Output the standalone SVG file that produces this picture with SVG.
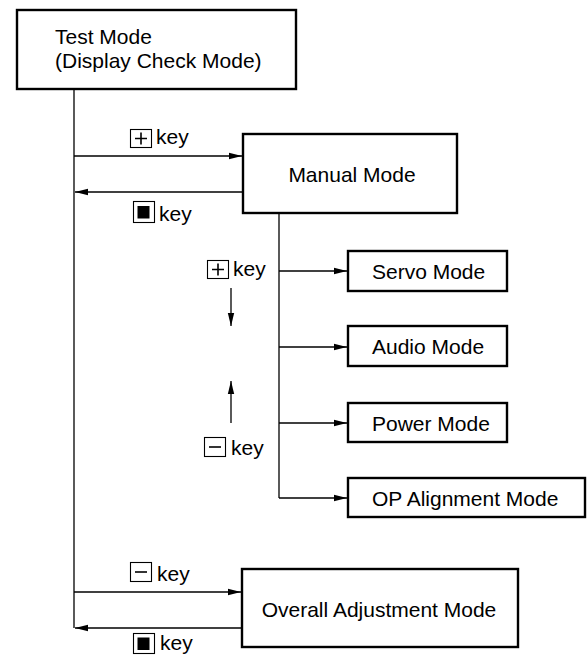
<svg xmlns="http://www.w3.org/2000/svg" width="588" height="655" viewBox="0 0 588 655">
<defs>
<style>
.box{fill:#fff;stroke:#000;stroke-width:2.4}
.t{font-family:"Liberation Sans",Arial,sans-serif;font-size:21px;fill:#000}
.ln{fill:none;stroke:#000;stroke-width:1.3}
.kb{fill:#fff;stroke:#000;stroke-width:1.1}
.ks{fill:none;stroke:#000;stroke-width:1.6}
</style>
<marker id="ah" markerUnits="userSpaceOnUse" markerWidth="14" markerHeight="8" viewBox="0 0 14 8" refX="13" refY="4" orient="auto">
<path d="M0,0.8 L13,4 L0,7.2 Z" fill="#000"/>
</marker>
</defs>
<g id="connectors">
<path class="ln" d="M74,89 V628"/>
<path class="ln" d="M74,156 H242" marker-end="url(#ah)"/>
<path class="ln" d="M243,192 H75" marker-end="url(#ah)"/>
<path class="ln" d="M279,213 V498"/>
<path class="ln" d="M279,271 H347" marker-end="url(#ah)"/>
<path class="ln" d="M279,347 H347" marker-end="url(#ah)"/>
<path class="ln" d="M279,423 H347" marker-end="url(#ah)"/>
<path class="ln" d="M279,498 H347" marker-end="url(#ah)"/>
<path class="ln" d="M74,592 H241" marker-end="url(#ah)"/>
<path class="ln" d="M242,628 H75" marker-end="url(#ah)"/>
<path class="ln" d="M231,288 V326" marker-end="url(#ah)"/>
<path class="ln" d="M231,423 V381" marker-end="url(#ah)"/>
</g>
<g id="test-mode">
<rect class="box" x="17" y="10" width="279" height="79"/>
<text class="t" x="55" y="44">Test Mode</text>
<text class="t" x="55" y="68">(Display Check Mode)</text>
</g>
<g id="manual-mode">
<rect class="box" x="243" y="134" width="214" height="79"/>
<text class="t" x="352" y="182" text-anchor="middle">Manual Mode</text>
</g>
<g id="servo-mode">
<rect class="box" x="348" y="251" width="159" height="40"/>
<text class="t" x="372" y="279">Servo Mode</text>
</g>
<g id="audio-mode">
<rect class="box" x="348" y="326" width="159" height="40"/>
<text class="t" x="372" y="354">Audio Mode</text>
</g>
<g id="power-mode">
<rect class="box" x="348" y="403" width="159" height="39"/>
<text class="t" x="372" y="431">Power Mode</text>
</g>
<g id="op-alignment-mode">
<rect class="box" x="348" y="478" width="237" height="39"/>
<text class="t" x="372" y="506">OP Alignment Mode</text>
</g>
<g id="overall-adjustment-mode">
<rect class="box" x="242" y="569" width="276" height="78"/>
<text class="t" x="379" y="617" text-anchor="middle">Overall Adjustment Mode</text>
</g>
<g id="label-plus-top">
<rect class="kb" x="130.5" y="129.5" width="21" height="18"/>
<path class="ks" d="M135,138.5 H147 M141,132.5 V144.5"/>
<text class="t" x="156" y="144">key</text>
</g>
<g id="label-stop-top">
<rect class="kb" x="133.5" y="201.5" width="21" height="21"/>
<rect x="137.5" y="206" width="12" height="12.5" fill="#000"/>
<text class="t" x="159" y="221">key</text>
</g>
<g id="label-plus-mid">
<rect class="kb" x="207.5" y="260.5" width="21" height="18"/>
<path class="ks" d="M212,269.5 H224 M218,263.5 V275.5"/>
<text class="t" x="233" y="276">key</text>
</g>
<g id="label-minus-mid">
<rect class="kb" x="204.5" y="437.5" width="21" height="19"/>
<path class="ks" d="M209,447 H221"/>
<text class="t" x="231" y="455">key</text>
</g>
<g id="label-minus-bottom">
<rect class="kb" x="130.5" y="562.5" width="21" height="19"/>
<path class="ks" d="M135,572 H147"/>
<text class="t" x="157" y="581">key</text>
</g>
<g id="label-stop-bottom">
<rect class="kb" x="133.5" y="633.5" width="21" height="20"/>
<rect x="137.5" y="637.5" width="12" height="12.5" fill="#000"/>
<text class="t" x="160" y="650">key</text>
</g>
</svg>
